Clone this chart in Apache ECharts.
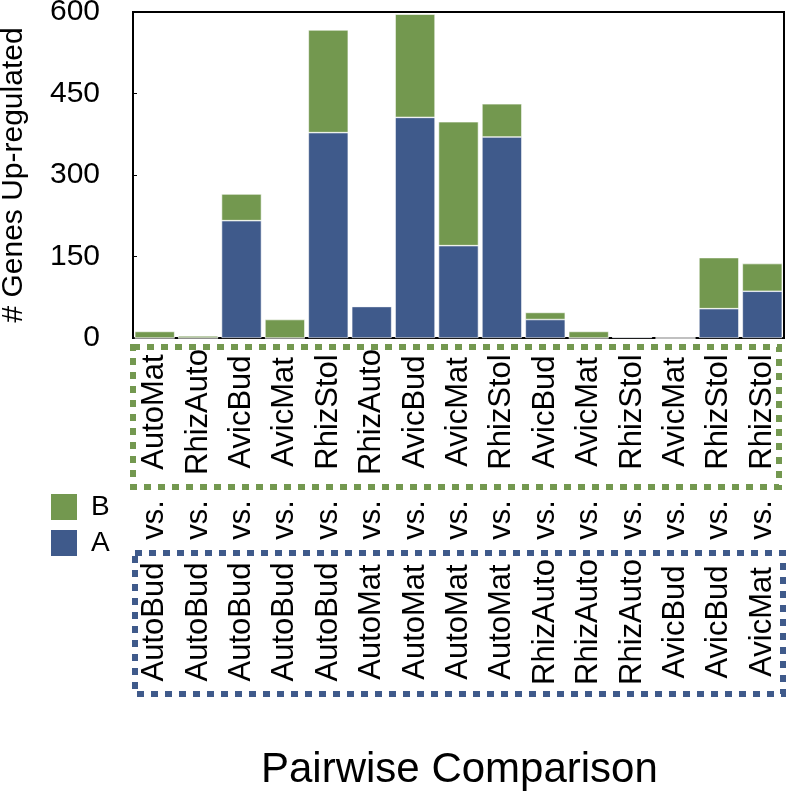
<!DOCTYPE html>
<html>
<head>
<meta charset="utf-8">
<script src="https://cdn.jsdelivr.net/npm/echarts@6/dist/echarts.min.js"></script>
<style>html,body{margin:0;padding:0;background:#fff;}#c{width:789px;height:791px;}</style>
</head>
<body>
<div id="c"></div>
<script>
var firstNames = ['AutoMat','RhizAuto','AvicBud','AvicMat','RhizStol','RhizAuto','AvicBud','AvicMat','RhizStol','AvicBud','AvicMat','RhizStol','AvicMat','RhizStol','RhizStol'];
var vsLabels = ['vs.','vs.','vs.','vs.','vs.','vs.','vs.','vs.','vs.','vs.','vs.','vs.','vs.','vs.','vs.'];
var secondNames = ['AutoBud','AutoBud','AutoBud','AutoBud','AutoBud','AutoMat','AutoMat','AutoMat','AutoMat','RhizAuto','RhizAuto','RhizAuto','AvicBud','AvicBud','AvicMat'];
var valuesA = [0,0,216,0,378,58,406,170,370,34,0,2,0,54,86];
var valuesB = [12,4,49,34,189,0,190,228,61,13,12,0,0,94,51];
var yTicks = {min:0, max:600, interval:150};

var FONT = '"Liberation Sans", Arial, Helvetica, sans-serif';
var BLUE = '#3f5a8b';
var GREEN = '#73984f';
var chart = echarts.init(document.getElementById('c'), null, {renderer:'canvas'});

function labelAxis(data, margin, showLine) {
  return {
    type: 'category', gridIndex: 0, position: 'bottom', data: data,
    axisLine: {show: showLine, lineStyle: {color: '#000', width: 2}},
    axisTick: {show: false},
    splitLine: {show: false},
    axisLabel: {interval: 0, rotate: 90, align: 'center', verticalAlign: 'middle',
      margin: margin, fontSize: 31, color: '#000', fontFamily: FONT, hideOverlap: false}
  };
}

chart.setOption({
  animation: false,
  textStyle: {fontFamily: FONT},
  title: {text: 'Pairwise Comparison', left: 256, top: 744,
    textStyle: {fontSize: 42, fontWeight: 'normal', color: '#000', fontFamily: FONT}},
  legend: {data: ['B','A'], orient: 'vertical', left: 44, top: 487,
    itemWidth: 28, itemHeight: 28, itemGap: 6, icon: 'rect',
    textStyle: {fontSize: 28, color: '#000', fontFamily: FONT, padding: [0,0,0,8]}},
  grid: {left: 133, right: 5, top: 12, bottom: 453, show: true, borderColor: '#000', borderWidth: 2,
    containLabel: false, outerBoundsMode: 'none'},
  xAxis: [
    labelAxis(firstNames, 74, true),
    labelAxis(vsLabels, 182, false),
    labelAxis(secondNames, 284, false)
  ],
  yAxis: {type: 'value', min: yTicks.min, max: yTicks.max, interval: yTicks.interval,
    name: '# Genes Up-regulated', nameLocation: 'middle', nameGap: 104,
    nameTextStyle: {fontSize: 30, color: '#000', fontFamily: FONT},
    axisLine: {show: true, lineStyle: {color: '#000', width: 2}},
    axisTick: {show: true, inside: true, length: 4, lineStyle: {color: '#000'}},
    splitLine: {show: false},
    axisLabel: {fontSize: 30, color: '#000', margin: 33, fontFamily: FONT}},
  series: [
    {name: 'A', type: 'bar', stack: 'total', xAxisIndex: 0, data: valuesA, barCategoryGap: '8%',
      itemStyle: {color: BLUE, borderColor: '#fff', borderWidth: 0.6}},
    {name: 'B', type: 'bar', stack: 'total', xAxisIndex: 0, data: valuesB, barCategoryGap: '8%',
      itemStyle: {color: GREEN, borderColor: '#fff', borderWidth: 0.6}}
  ],
  graphic: [
    {type: 'rect', shape: {x: 133, y: 347, width: 646, height: 140},
      style: {fill: null, stroke: GREEN, lineWidth: 6, lineDash: [7,7]}, silent: true},
    {type: 'rect', shape: {x: 135, y: 553, width: 648, height: 141},
      style: {fill: null, stroke: BLUE, lineWidth: 6, lineDash: [7,7]}, silent: true}
  ]
});
</script>
</body>
</html>
